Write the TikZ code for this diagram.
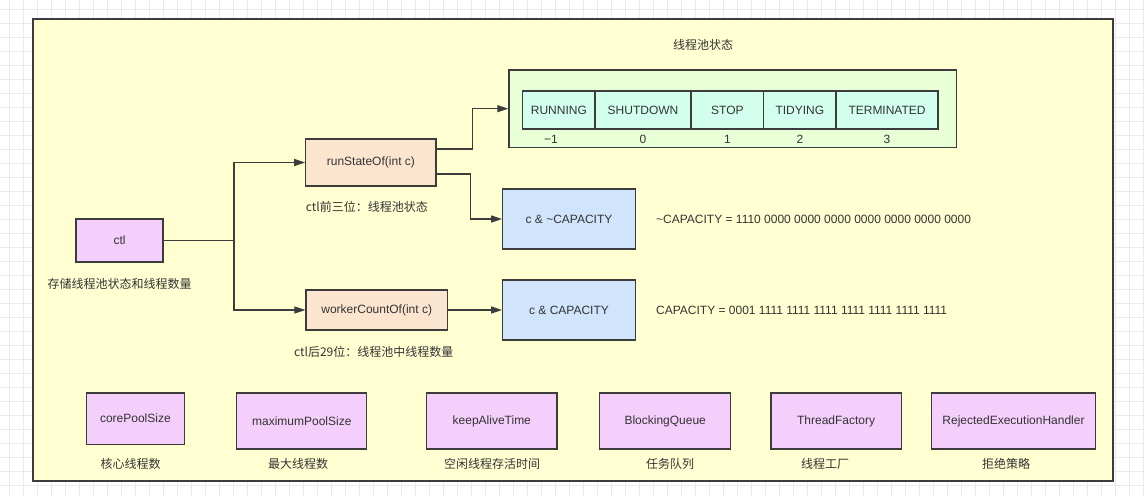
\documentclass[tikz,border=0pt]{standalone}
\usepackage{fontspec}
\setmainfont{Liberation Sans}
\newfontfamily\cjk{Noto Sans CJK SC}
\usetikzlibrary{arrows.meta,positioning}

\definecolor{linegray}{HTML}{3C3C3C}
\definecolor{textgray}{HTML}{333333}
\definecolor{gridgray}{HTML}{EAEAEA}
\definecolor{panelfill}{HTML}{FFFFD2}
\definecolor{pinkfill}{HTML}{F4CFFB}
\definecolor{peachfill}{HTML}{FCE5CF}
\definecolor{bluefill}{HTML}{D0E4FC}
\definecolor{greenfill}{HTML}{E9FFD6}
\definecolor{mintfill}{HTML}{D3FFEE}

\tikzset{
  box/.style={draw=linegray, line width=1.3pt, text=textgray, inner sep=0pt,
    font=\fontsize{12}{14}\selectfont},
  pinkbox/.style={box, fill=pinkfill},
  peachbox/.style={box, fill=peachfill},
  bluebox/.style={box, fill=bluefill},
  cell/.style={box, fill=mintfill, minimum height=38pt, outer sep=0pt},
  note/.style={text=textgray, inner sep=0pt, font={\fontsize{12}{14}\selectfont\cjk}},
  num/.style={text=textgray, inner sep=0pt, font=\fontsize{12}{14}\selectfont},
  wire/.style={draw=linegray, line width=1.3pt},
  arr/.style={wire, -{Triangle[length=11pt,width=7pt]}},
}

\begin{document}
\begin{tikzpicture}[x=1pt, y=-1pt, node distance=0pt]
  \useasboundingbox (0,0) rectangle (1144,496);
  % grid paper
  \fill[white] (0,0) rectangle (1144,496);
  \foreach \x in {9.3,23.3,...,1144} \draw[gridgray, line width=0.8pt] (\x,0) -- (\x,496);
  \foreach \y in {9.3,23.3,...,496} \draw[gridgray, line width=0.8pt] (0,\y) -- (1144,\y);

  \node[draw=linegray, line width=1.7pt, fill=panelfill, minimum width=1080pt, minimum height=462pt] (panel) at (573,250) {};

  % thread pool states
  \node[note] (title) at (703,45) {线程池状态};
  \node[box, fill=greenfill, minimum width=447.7pt, minimum height=77.3pt] (states) at (732.8,108.7) {};
  \node[cell, minimum width=72.3pt] (running) at (558.9,110) {RUNNING};
  \node[cell, minimum width=96pt, right=of running] (shutdown) {SHUTDOWN};
  \node[cell, minimum width=72.7pt, right=of shutdown] (stop) {STOP};
  \node[cell, minimum width=72.3pt, right=of stop] (tidying) {TIDYING};
  \node[cell, minimum width=102pt, right=of tidying] (terminated) {TERMINATED};
  \node[num, below=6pt of running, xshift=-8pt] (vrunning) {−1};
  \node[num, below=6pt of shutdown] (vshutdown) {0};
  \node[num, below=6pt of stop] (vstop) {1};
  \node[num, below=6pt of tidying] (vtidying) {2};
  \node[num, below=6pt of terminated] (vterminated) {3};

  % ctl and its two halves
  \node[pinkbox, minimum width=87pt, minimum height=43pt] (ctl) at (119.5,240.5) {ctl};
  \node[note, below=16pt of ctl] (ctllabel) {存储线程池状态和线程数量};

  \node[peachbox, minimum width=130.3pt, minimum height=47pt] (run) at (370.9,162.5) {runStateOf(int c)};
  \node[note, below=14pt of run, xshift=-4pt] (runlabel) {ctl前三位：线程池状态};
  \node[peachbox, minimum width=141.3pt, minimum height=40pt] (worker) at (376.7,310) {workerCountOf(int c)};
  \node[note, below=15pt of worker, xshift=-3pt] (workerlabel) {ctl后29位：线程池中线程数量};

  \node[bluebox, minimum width=132.6pt, minimum height=60pt] (notcap) at (569,219) {c \& \textasciitilde CAPACITY};
  \node[num, right=20pt of notcap] (notcapval) {\textasciitilde CAPACITY = 1110 0000 0000 0000 0000 0000 0000 0000};
  \node[bluebox, minimum width=132.6pt, minimum height=60pt] (cap) at (569,310) {c \& CAPACITY};
  \node[num, right=20pt of cap] (capval) {CAPACITY = 0001 1111 1111 1111 1111 1111 1111 1111};

  \coordinate (split) at (234,240.5);
  \draw[wire] (ctl.east) -- (split);
  \draw[arr] (split) |- (run.west);
  \draw[arr] (split) |- (worker.west);
  \draw[arr] ([yshift=13.5pt]run.east) -- ++(36,0) |- (states.west);
  \draw[arr] ([yshift=-11.5pt]run.east) -- ++(34,0) |- (notcap.west);
  \draw[arr] (worker.east) -- (cap.west);

  % constructor parameters
  \node[pinkbox, minimum width=97.8pt, minimum height=51.4pt] (core) at (135.4,418.7) {corePoolSize};
  \node[pinkbox, minimum width=130pt, minimum height=56pt] (maxsize) at (301.8,421) {maximumPoolSize};
  \node[pinkbox, minimum width=130.2pt, minimum height=56pt] (alive) at (491.8,421) {keepAliveTime};
  \node[pinkbox, minimum width=131.2pt, minimum height=56pt] (queue) at (665.2,421) {BlockingQueue};
  \node[pinkbox, minimum width=130.3pt, minimum height=56pt] (factory) at (836.1,421) {ThreadFactory};
  \node[pinkbox, minimum width=163.9pt, minimum height=56pt] (handler) at (1013.5,421) {RejectedExecutionHandler};
  \node[note] (corelabel) at (130.6,464) {核心线程数};
  \node[note] (maxlabel) at (298,464) {最大线程数};
  \node[note] (alivelabel) at (492,464) {空闲线程存活时间};
  \node[note] (queuelabel) at (670,464) {任务队列};
  \node[note] (factorylabel) at (825,464) {线程工厂};
  \node[note] (handlerlabel) at (1006,464) {拒绝策略};
\end{tikzpicture}
\end{document}
